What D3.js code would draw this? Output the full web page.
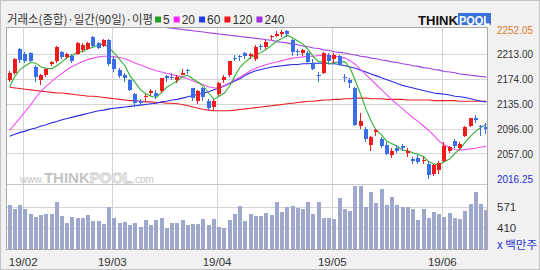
<!DOCTYPE html>
<html><head><meta charset="utf-8">
<script src="https://cdn.jsdelivr.net/npm/d3@7"></script>
<style>html,body{margin:0;padding:0;background:#f0f0f0;}svg{display:block;}</style>
</head><body>
<svg id="c" width="540" height="270"></svg>
<script>
const dates = ["01-29","01-30","01-31",
"02-01","02-07","02-08","02-11","02-12","02-13","02-14","02-15","02-18","02-19","02-20","02-21","02-22","02-25","02-26","02-27","02-28",
"03-04","03-05","03-06","03-07","03-08","03-11","03-12","03-13","03-14","03-15","03-18","03-19","03-20","03-21","03-22","03-25","03-26","03-27","03-28","03-29",
"04-01","04-02","04-03","04-04","04-05","04-08","04-09","04-10","04-11","04-12","04-15","04-16","04-17","04-18","04-19","04-22","04-23","04-24","04-25","04-26","04-29","04-30",
"05-02","05-03","05-07","05-08","05-09","05-10","05-13","05-14","05-15","05-16","05-17","05-20","05-21","05-22","05-23","05-24","05-27","05-28","05-29","05-30","05-31",
"06-03","06-04","06-05","06-07","06-10","06-11","06-12","06-13","06-14"];
const open = [2172,2183,2222,2214,2215,2193,2172,2180,2198,2203,2216,2209,2211,2213,2219,2221,2240,2230,2226,2235,
2205,2188,2180,2172,2150,2140,2145,2152,2152,2155,2179,2178,2172,2180,2188,2160,2140,2160,2140,2130,
2150,2172,2180,2207,2210,2215,2210,2205,2226,2225,2240,2242,2245,2250,2235,2218,2215,2215,2200,2180,2183,2212,
2205,2210,2178,2172,2160,2100,2095,2070,2090,2080,2070,2055,2065,2068,2058,2048,2050,2045,2040,2025,2030,
2045,2060,2077,2065,2085,2100,2112,2100,2098];
const high = [2186,2207,2223,2216,2217,2196,2182,2192,2203,2226,2218,2215,2214,2232,2230,2232,2242,2233,2237,2237,
2210,2192,2184,2174,2152,2142,2150,2158,2157,2176,2180,2183,2180,2190,2190,2160,2156,2162,2142,2142,
2170,2180,2203,2212,2212,2217,2215,2228,2229,2235,2244,2250,2252.05,2251,2237,2222,2222,2218,2205,2185,2216,2215,
2215,2212,2182,2175,2162,2120,2098,2085,2095,2082,2075,2065,2070,2072,2065,2052,2055,2052,2045,2040,2045,
2075,2068,2080,2075,2100,2113,2118,2102,2105];
const low = [2170,2181,2199,2200,2201,2169,2164,2178,2195,2200,2205,2206,2200,2212,2217,2219,2224,2221,2224,2195,
2185,2175,2170,2155,2130,2131,2140,2148,2143,2152,2170,2172,2168,2180,2182,2140,2135,2140,2125,2126,
2148,2168,2178,2203,2203,2205,2205,2203,2220,2222,2235,2240,2240,2240,2210,2210,2210,2200,2188,2170,2182,2198,
2200,2194,2170,2160,2100,2095,2075,2060,2085,2065,2055,2050,2058,2060,2052,2040,2040,2040,2016.25,2022,2025,
2043,2058,2065,2062,2083,2098,2105,2085,2088];
const close = [2183,2206,2204,2203,2203,2177,2180,2190,2201,2225,2209,2213,2203,2230,2228,2231,2226,2223,2235,2198,
2190,2179,2175,2157,2137,2137,2148,2155,2148,2176,2176,2177,2177,2184,2186,2144,2155,2145,2128,2140,
2168,2177,2203,2206,2209,2210,2213,2224,2224,2233,2242,2245,2248,2245,2216,2216,2220,2201,2190,2179,2215,2203,
2212,2196,2177,2168,2102,2108,2079,2082,2093,2068,2056,2061,2061,2065,2060,2045,2044,2047,2023,2039,2042,
2068,2067,2069,2072,2099,2112,2109,2098,2095];
const volume = [585,549,585,549,518,494,506,518,513,607,499,448,492,487,487,506,463,463,443,566,
487,448,456,436,448,417,468,432,468,487,412,448,448,468,436,441,441,480,432,480,
417,412,468,518,576,463,513,501,501,525,506,607,530,566,576,557,549,607,518,607,487,487,
480,634,549,537,720,720,566,679,600,700,580,643,580,571,571,549,468,549,487,530,518,
494,525,487,480,537,593,679,593,542];
const ma5 = [2162,2178,2189,2195,2200,2199,2193,2191,2190,2195,2201,2208,2211,2217,2217,2222,2224,2228,2229,2223,
2215,2205,2195,2179,2168,2157,2151,2147,2145,2153,2161,2166,2171,2178,2180,2174,2169,2163,2152,2142,
2147,2152,2163,2179,2193,2201,2208,2212,2216,2221,2227,2234,2238,2243,2239,2234,2229,2220,2209,2201,2201,2198,
2200,2201,2201,2191,2171,2150,2127,2108,2093,2086,2076,2072,2068,2062,2061,2058,2055,2052,2044,2040,2039,
2044,2048,2057,2064,2075,2084,2092,2098,2103];
const ma20 = [2093,2103,2113,2123,2133,2145,2155,2163,2170,2177,2183,2189,2194,2198,2202,2205,2207,2209,2210,2210,
2209,2208,2206,2203,2199,2196,2193,2190,2187,2185,2183,2181,2179,2177,2175,2171,2168,2165,2162,2160,
2161,2164,2168,2173,2177,2182,2187,2191,2194,2197,2199,2201,2203,2205,2207,2208,2209,2210,2210,2211,2211,2210,
2210,2209,2207,2203,2197,2189,2181,2173,2165,2157,2149,2141,2134,2127,2120,2113,2107,2100,2093,2085,2076,
2070,2066,2063,2062,2063,2064,2065,2067,2068];
const ma60 = [2084,2087,2090,2092,2095,2097,2100,2102,2105,2107,2110,2112,2114,2116,2118,2120,2122,2124,2125,2127,
2128,2129,2130,2131,2132,2133,2134,2135,2136,2138,2139,2141,2142,2144,2146,2148,2150,2152,2154,2157,
2160,2163,2167,2171,2175,2180,2184,2187,2189,2191,2193,2194,2195,2196,2197,2197,2198,2198,2199,2199,2199,2198,
2198,2197,2195,2193,2191,2188,2185,2182,2179,2176,2173,2170,2167,2164,2162,2160,2158,2156,2154,2152,2151,
2150,2149,2147,2146,2145,2143,2141,2139,2138];
const ma120 = [2161,2160,2159,2158,2157,2156,2155,2154,2153,2152,2152,2151,2150,2149,2148,2147,2147,2146,2145,2144,
2143,2142,2141,2140,2140,2139,2138,2138,2137,2137,2136,2136,2135,2134,2132,2130,2128,2126,2125,2124,
2124,2124,2124,2125,2126,2127,2128,2129,2130,2131,2132,2133,2134,2135,2136,2137,2138,2139,2139,2140,2141,2141,
2142,2142,2143,2143,2144,2144,2144,2143,2143,2143,2142,2142,2142,2142,2141,2141,2141,2141,2141,2140,2140,
2140,2140,2140,2139,2139,2139,2139,2139,2139];
const ma240 = [null,null,null,null,null,null,null,null,null,null,null,null,null,null,null,null,null,null,null,null,
null,null,null,null,null,null,null,null,null,null,2255,2254,2253,2252,2251,2250,2249,2248,2247,2246,
2245,2244,2243,2242,2241,2240,2239,2238,2237,2236,2235,2233,2232,2231,2229,2228,2226,2225,2223,2222,2220,2219,
2217,2216,2215,2213,2212,2210,2209,2207,2206,2204,2203,2201,2200,2198,2197,2195,2194,2192,2191,2189,2188,
2186,2185,2184,2182,2181,2180,2179,2178,2177];
const priceTicks = [2213, 2174, 2135, 2096, 2057];
const priceMax = 2252.05, priceMin = 2016.25;
const volTicks = [571, 410];
const monthLabels = ["19/02","19/03","19/04","19/05","19/06"];
const maLabels = ["5","20","60","120","240"];
const titleText = "거래소(종합)·일간(90일)·이평";
const unitText = "x 백만주";

const W=540,H=270, L=6, R=488, PT=27, PB=184, VT=185, VB=250;
const n = dates.length;
const svg = d3.select("#c");
const FONT = "'Liberation Sans', Arial, sans-serif";

svg.append("rect").attr("width",W).attr("height",H).attr("fill","#f1f1f1");
svg.append("rect").attr("x",0.5).attr("y",0.5).attr("width",W-1).attr("height",H-1).attr("fill","none").attr("stroke","#c4c4c4");
svg.append("rect").attr("x",L).attr("y",PT).attr("width",R-L).attr("height",VB-PT).attr("fill","#fff");

const x = d3.scaleBand().domain(d3.range(n)).range([7,489]).paddingInner(0.236).paddingOuter(0.118);
const xSlot = d3.scaleLinear().domain([0,n]).range([7,489]);
const yP = d3.scaleLinear().domain([priceMin, priceMax]).range([179.2, 29.5]);
const yV = d3.scaleLinear().domain([410, 571]).range([228.3, 206.5]);
const cx = i => x(i) + x.bandwidth()/2;

const defs = svg.append("defs");
defs.append("clipPath").attr("id","cp").append("rect").attr("x",L).attr("y",PT).attr("width",R-L).attr("height",PB-PT);
defs.append("clipPath").attr("id","cv").append("rect").attr("x",L).attr("y",VT+1).attr("width",R-L).attr("height",VB-VT-1);

const monthIdx = monthLabels.map(m => dates.findIndex(d => d.slice(0,2) === m.slice(3)));

const gridC = "#d4d4d4";
const gP = svg.append("g").attr("transform",`translate(${L},0)`)
  .call(d3.axisLeft(yP).tickValues(priceTicks).tickSize(-(R-L)).tickFormat(""));
gP.select(".domain").remove();
gP.selectAll("line").attr("stroke",gridC).attr("shape-rendering","crispEdges");
const gV = svg.append("g").attr("transform",`translate(${L},0)`)
  .call(d3.axisLeft(yV).tickValues(volTicks).tickSize(-(R-L)).tickFormat(""));
gV.select(".domain").remove();
gV.selectAll("line").attr("stroke",gridC).attr("shape-rendering","crispEdges");
const gX = svg.append("g").attr("transform",`translate(0,${VB})`)
  .call(d3.axisTop(xSlot).tickValues(monthIdx).tickSize(VB-PT).tickFormat(""));
gX.select(".domain").remove();
gX.selectAll("line").attr("stroke",gridC).attr("shape-rendering","crispEdges");

svg.append("line").attr("x1",L).attr("x2",R).attr("y1",PB+0.5).attr("y2",PB+0.5).attr("stroke","#c8c8c8");

const wm = svg.append("text").attr("x",20).attr("y",183).attr("font-family",FONT).attr("fill","#c4c4c4");
wm.append("tspan").attr("font-size","10px").text("www.");
wm.append("tspan").attr("font-size","15px").attr("font-weight","bold").text("THINK");
wm.append("tspan").attr("font-size","15px").attr("font-weight","bold").attr("fill","#f4f4f4").attr("stroke","#c8c8c8").attr("stroke-width",0.8).text("POOL");
wm.append("tspan").attr("font-size","10px").text(".com");

svg.append("g").attr("clip-path","url(#cv)").selectAll("rect").data(volume).join("rect")
  .attr("x",(d,i)=>Math.round(x(i))).attr("width",4)
  .attr("y",d=>Math.round(yV(d))).attr("height",d=>VB-Math.round(yV(d)))
  .attr("fill","#9ea8cc");

const maSeries = [ma240, ma120, ma60, ma20, ma5];
const maColors = ["#a040e0","#e82020","#2a2ae0","#f050f0","#30b030"];
const gL = svg.append("g").attr("clip-path","url(#cp)");
const line = d3.line().defined(v=>v!=null).x((v,i)=>cx(i)).y(v=>yP(v));
maSeries.forEach((s,k)=>{
  gL.append("path").attr("d",line(s)).attr("fill","none").attr("stroke",maColors[k]).attr("stroke-width",1.1);
});

const UP="#ee1c1c", DN="#3a6ee6";
const gC = svg.append("g").attr("clip-path","url(#cp)");
d3.range(n).forEach(i=>{
  const up = close[i] >= open[i];
  const col = up ? UP : DN;
  const bx = Math.round(x(i));
  const yh = Math.round(yP(high[i])), yl = Math.round(yP(low[i]));
  gC.append("rect").attr("x",bx+1).attr("width",1).attr("y",yh).attr("height",Math.max(1,yl-yh)).attr("fill",col);
  const y1 = Math.round(yP(Math.max(open[i],close[i]))), y2 = Math.round(yP(Math.min(open[i],close[i])));
  gC.append("rect").attr("x",bx).attr("width",4).attr("y",y1).attr("height",Math.max(1,y2-y1)).attr("fill",col);
});

svg.append("rect").attr("x",L+0.5).attr("y",PT+0.5).attr("width",R-L-1).attr("height",VB-PT-1)
  .attr("fill","none").attr("stroke","#a8a8a8");

const aP = svg.append("g").attr("transform","translate(497,0)")
  .call(d3.axisRight(yP).tickValues([priceMax,...priceTicks,priceMin]).tickFormat(d3.format(".2f")).tickSize(0).tickPadding(0));
aP.select(".domain").remove();
aP.selectAll("text").attr("font-family",FONT).attr("font-size","11.5px").attr("textLength",36).attr("lengthAdjust","spacingAndGlyphs")
  .attr("fill",d=> d===priceMax ? "#e07a28" : d===priceMin ? "#2430d8" : "#333");
const aV = svg.append("g").attr("transform","translate(497,0)")
  .call(d3.axisRight(yV).tickValues(volTicks).tickFormat(d3.format("d")).tickSize(0).tickPadding(0));
aV.select(".domain").remove();
aV.selectAll("text").attr("font-family",FONT).attr("font-size","11.5px").attr("fill","#333");
svg.append("text").attr("x",497).attr("y",248.5).attr("font-family","'Noto Sans CJK KR', sans-serif").attr("font-size","11.5px").attr("fill","#2a35d0")
  .attr("textLength",40).attr("lengthAdjust","spacingAndGlyphs").text(unitText);

const aX = svg.append("g").attr("transform",`translate(0,${VB})`)
  .call(d3.axisBottom(xSlot).tickValues(monthIdx).tickFormat((d,i)=>monthLabels[i]).tickSize(0).tickPadding(8));
aX.select(".domain").remove();
aX.selectAll("text").attr("font-family",FONT).attr("font-size","11.5px").attr("fill","#333");

svg.append("text").attr("x",7).attr("y",23.5).attr("font-family","'Noto Sans CJK KR', sans-serif").attr("font-size","12px").attr("fill","#333")
  .text(titleText).attr("textLength",146).attr("lengthAdjust","spacingAndGlyphs");
const legColors = ["#22a022","#ff22ff","#1f3cf0","#e81818","#a030e0"];
let lx = 155;
maLabels.forEach((lab,k)=>{
  svg.append("rect").attr("x",lx).attr("y",16.5).attr("width",6).attr("height",6).attr("fill",legColors[k]);
  const t = svg.append("text").attr("x",lx+8).attr("y",23.5).attr("font-family",FONT).attr("font-size","12px").attr("fill","#333").text(lab);
  lx += 8 + t.node().getComputedTextLength() + 4;
});

svg.append("text").attr("x",418).attr("y",25).attr("font-family",FONT).attr("font-weight","bold").attr("font-size","13px").attr("fill","#111")
  .attr("textLength",40).attr("lengthAdjust","spacingAndGlyphs").text("THINK");
svg.append("rect").attr("x",458).attr("y",13).attr("width",33).attr("height",12).attr("fill","#3a72dc");
svg.append("text").attr("x",459).attr("y",24.5).attr("font-family",FONT).attr("font-weight","bold").attr("font-size","12.5px").attr("fill","#fff")
  .attr("textLength",31).attr("lengthAdjust","spacingAndGlyphs").text("POOL");
</script>
</body></html>
